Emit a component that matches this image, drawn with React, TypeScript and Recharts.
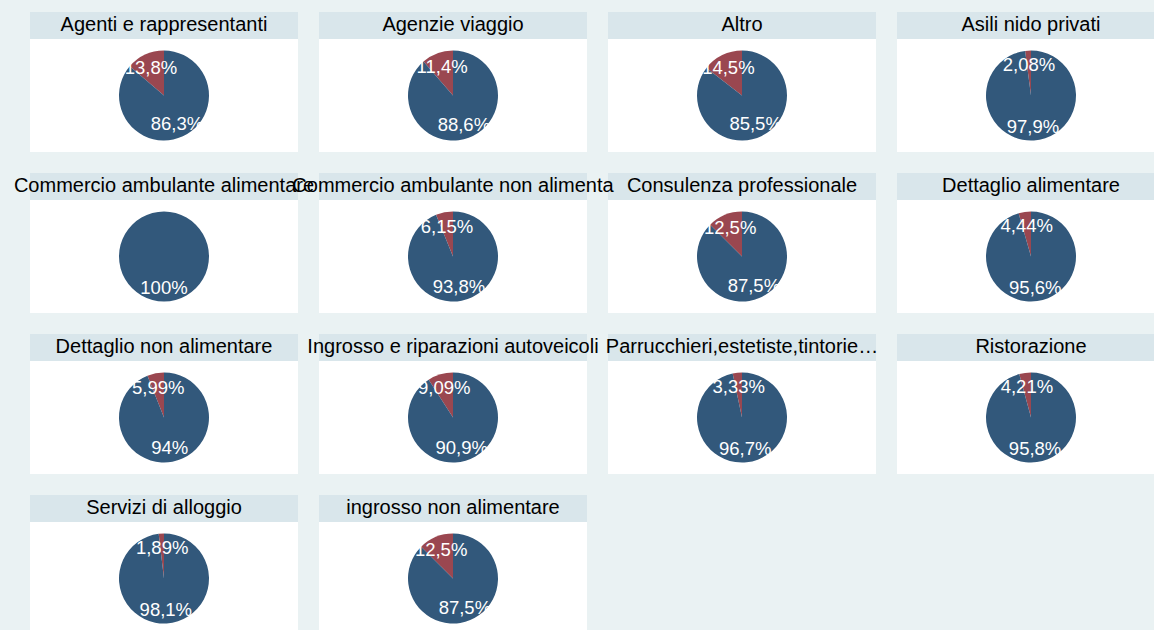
import React from 'react';
import { PieChart, Pie, Cell } from 'recharts';

const categories = [
  'Agenti e rappresentanti',
  'Agenzie viaggio',
  'Altro',
  'Asili nido privati',
  'Commercio ambulante alimentare',
  'Commercio ambulante non alimenta',
  'Consulenza professionale',
  'Dettaglio alimentare',
  'Dettaglio non alimentare',
  'Ingrosso e riparazioni autoveicoli',
  'Parrucchieri,estetiste,tintorie…',
  'Ristorazione',
  'Servizi di alloggio',
  'ingrosso non alimentare',
];

// share of the small (red) slice, in percent
const otherShare = [13.8, 11.4, 14.5, 2.08, 0, 6.15, 12.5, 4.44, 5.99, 9.09, 3.33, 4.21, 1.89, 12.5];
// share of the large (blue) slice, in percent
const mainShare = [86.3, 88.6, 85.5, 97.9, 100, 93.8, 87.5, 95.6, 94, 90.9, 96.7, 95.8, 98.1, 87.5];

const seriesNames = ['altro', 'principale'];
const sliceColors = ['#9a4750', '#32587b'];

const FONT = '"Liberation Sans", Arial, Helvetica, sans-serif';
const COLS = 4;
const LEFT0 = 30;
const TOP0 = 12;
const COL_STEP = 289;
const ROW_STEP = 161;
const PANEL_W = 268;
const HEADER_H = 27;
const PLOT_H = 113;

const fmt = (v: number) => Number(v.toPrecision(3)).toString().replace('.', ',') + '%';

const renderLabel = (props: any) => {
  const { cx, cy, midAngle, value } = props;
  if (!value) return null;
  const RAD = Math.PI / 180;
  const r = 31;
  const x = cx + r * Math.cos(-midAngle * RAD);
  const y = cy + r * Math.sin(-midAngle * RAD);
  return (
    <text
      x={x}
      y={y}
      fill="#ffffff"
      fontSize={18.5}
      fontFamily={FONT}
      textAnchor="middle"
      dominantBaseline="central"
    >
      {fmt(value)}
    </text>
  );
};

export default function App() {
  const panels = categories.map((name, i) => {
    const col = i % COLS;
    const row = Math.floor(i / COLS);
    return { name, i, left: LEFT0 + col * COL_STEP, top: TOP0 + row * ROW_STEP };
  });

  return (
    <div
      style={{
        position: 'absolute',
        left: 0,
        top: 0,
        width: 1154,
        height: 630,
        overflow: 'hidden',
        background: '#eaf2f3',
        fontFamily: FONT,
      }}
    >
      {panels.map((p) => {
        const data = [
          { name: seriesNames[0], value: otherShare[p.i] },
          { name: seriesNames[1], value: mainShare[p.i] },
        ];
        return (
          <div
            key={'panel' + p.i}
            style={{ position: 'absolute', left: p.left, top: p.top, width: PANEL_W }}
          >
            <div style={{ height: HEADER_H, background: '#d9e6eb' }} />
            <div style={{ height: PLOT_H, background: '#ffffff' }}>
              <PieChart width={PANEL_W} height={PLOT_H} margin={{ top: 0, right: 0, bottom: 0, left: 0 }}>
                <Pie
                  data={data}
                  dataKey="value"
                  nameKey="name"
                  cx="50%"
                  cy="50%"
                  outerRadius={45}
                  startAngle={90}
                  endAngle={450}
                  stroke="none"
                  labelLine={false}
                  label={renderLabel}
                  isAnimationActive={false}
                >
                  {data.map((d, k) => (
                    <Cell key={d.name} fill={sliceColors[k]} />
                  ))}
                </Pie>
              </PieChart>
            </div>
          </div>
        );
      })}
      {panels.map((p) => (
        <div
          key={'title' + p.i}
          style={{
            position: 'absolute',
            left: p.left + PANEL_W / 2,
            top: p.top,
            height: HEADER_H,
            lineHeight: '24px',
            fontSize: 20,
            color: '#000000',
            whiteSpace: 'nowrap',
            transform: 'translateX(-50%)',
          }}
        >
          {p.name}
        </div>
      ))}
    </div>
  );
}
